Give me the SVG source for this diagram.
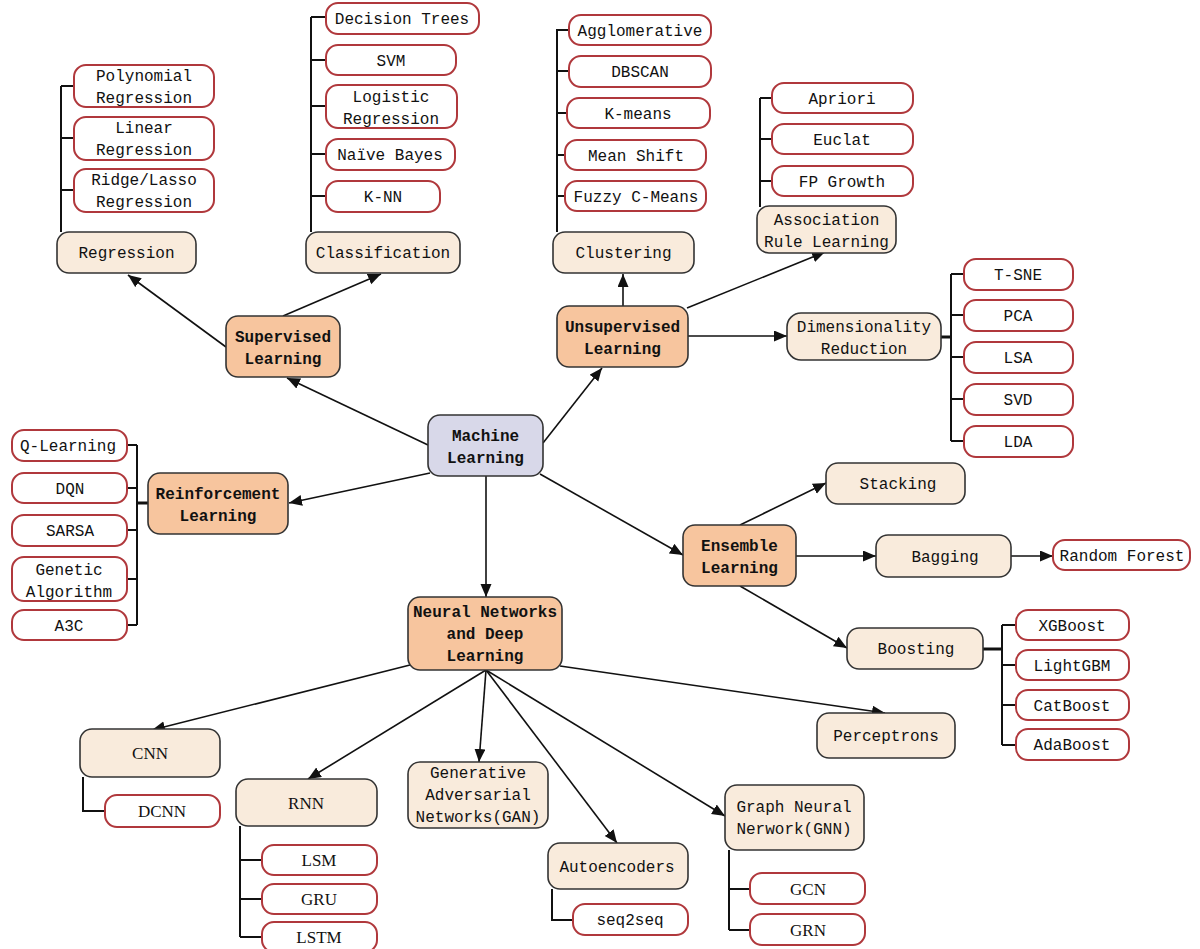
<svg xmlns="http://www.w3.org/2000/svg" width="1200" height="949" viewBox="0 0 1200 949">
<style>
  .leaf rect{fill:#ffffff;stroke:#b0383c;stroke-width:2}
  .cat rect{fill:#f9ebdc;stroke:#333;stroke-width:1.6}
  .main rect{fill:#f7c59e;stroke:#333;stroke-width:1.6}
  .root rect{fill:#d8d8e9;stroke:#333;stroke-width:1.6}
  text{font-family:"Liberation Mono","DejaVu Sans Mono",monospace;font-size:16px;fill:#111;text-anchor:middle}
  .main text,.root text{font-weight:bold}
  text.tnr{font-family:"Liberation Serif","Times New Roman",serif;font-size:17px}
  .tree path{fill:none;stroke:#111;stroke-width:2}
  .arrows line{stroke:#111;stroke-width:1.6;marker-end:url(#ah)}
</style>
<defs>
  <marker id="ah" markerUnits="userSpaceOnUse" markerWidth="14" markerHeight="12" refX="13" refY="5.5" orient="auto">
    <path d="M0,0 L13,5.5 L0,11 z" fill="#111"/>
  </marker>
</defs>
<rect width="1200" height="949" fill="#ffffff"/>

<g id="connectors">
  <g class="tree">
    <path d="M61,86 V232 M61,86 H74 M61,138 H74 M61,190 H74"/>
    <path d="M311,17 V232 M311,17 H326 M311,60 H326 M311,106 H326 M311,154 H326 M311,196 H326"/>
    <path d="M557,29 V232 M557,30 H569 M557,71 H569 M557,113 H567 M557,155 H565 M557,196 H565"/>
    <path d="M760,98 V207 M760,98 H772 M760,139 H772 M760,181 H772"/>
    <path d="M951,274 V441 M951,274 H964 M951,315 H964 M951,357 H964 M951,399 H964 M951,441 H964"/>
    <path d="M941,337 H951" style="stroke-width:3"/>
    <path d="M137,445 V625 M127,445 H137 M127,488 H137 M127,530 H137 M127,579 H137 M127,625 H137"/>
    <path d="M137,503 H148" style="stroke-width:3"/>
    <path d="M1002,625 V745 M1002,625 H1016 M1002,665 H1016 M1002,705 H1016 M1002,745 H1016"/>
    <path d="M983,649 H1002" style="stroke-width:3"/>
    <path d="M83,777 V811 H105"/>
    <path d="M240,826 V937 M240,860 H262 M240,899 H262 M240,937 H262"/>
    <path d="M552,889 V920 H573"/>
    <path d="M729,850 V930 M729,889 H750 M729,930 H750"/>
  </g>
  <g class="arrows">
    <line x1="428" y1="445" x2="287" y2="378"/>
    <line x1="226" y1="347" x2="128" y2="275"/>
    <line x1="283" y1="316" x2="381" y2="274"/>
    <line x1="543" y1="443" x2="602" y2="368"/>
    <line x1="623" y1="306" x2="623" y2="274"/>
    <line x1="687" y1="308" x2="825" y2="252"/>
    <line x1="688" y1="336" x2="787" y2="336"/>
    <line x1="430" y1="473" x2="289" y2="503"/>
    <line x1="486" y1="476" x2="486" y2="597"/>
    <line x1="540" y1="474" x2="683" y2="555"/>
    <line x1="740" y1="525" x2="826" y2="483"/>
    <line x1="796" y1="556" x2="876" y2="556"/>
    <line x1="1011" y1="556" x2="1053" y2="556"/>
    <line x1="740" y1="586" x2="847" y2="648"/>
    <line x1="410" y1="665" x2="152" y2="730"/>
    <line x1="486" y1="670" x2="308" y2="779"/>
    <line x1="486" y1="670" x2="479" y2="762"/>
    <line x1="486" y1="670" x2="617" y2="843"/>
    <line x1="486" y1="670" x2="725" y2="816"/>
    <line x1="560" y1="666" x2="885" y2="713"/>
  </g>
</g>

<!-- Root -->
<g id="machine-learning" class="root"><rect x="428" y="415" width="115" height="61" rx="12"/><text x="485.5" y="440.5">Machine</text><text x="485.5" y="462.5">Learning</text></g>

<!-- Main categories -->
<g id="supervised" class="main"><rect x="226" y="316" width="114" height="61" rx="12"/><text x="283" y="341.5">Supervised</text><text x="283" y="363.5">Learning</text></g>
<g id="unsupervised" class="main"><rect x="557" y="306" width="131" height="61" rx="12"/><text x="622.5" y="331.5">Unsupervised</text><text x="622.5" y="353.5">Learning</text></g>
<g id="reinforcement" class="main"><rect x="148" y="473" width="140" height="61" rx="12"/><text x="218" y="498.5">Reinforcement</text><text x="218" y="520.5">Learning</text></g>
<g id="ensemble" class="main"><rect x="683" y="525" width="113" height="61" rx="12"/><text x="739.5" y="550.5">Ensemble</text><text x="739.5" y="572.5">Learning</text></g>
<g id="neural-networks" class="main"><rect x="408" y="597" width="154" height="73" rx="12"/><text x="485" y="616.5">Neural Networks</text><text x="485" y="638.5">and Deep</text><text x="485" y="660.5">Learning</text></g>

<!-- Sub categories -->
<g id="regression" class="cat"><rect x="57" y="232" width="139" height="41" rx="12"/><text x="126.5" y="258">Regression</text></g>
<g id="classification" class="cat"><rect x="306" y="232" width="154" height="41" rx="12"/><text x="383" y="258">Classification</text></g>
<g id="clustering" class="cat"><rect x="553" y="232" width="141" height="41" rx="12"/><text x="623.5" y="258">Clustering</text></g>
<g id="association" class="cat"><rect x="757" y="206" width="139" height="47" rx="12"/><text x="826.5" y="224.5">Association</text><text x="826.5" y="246.5">Rule Learning</text></g>
<g id="dimensionality" class="cat"><rect x="787" y="313" width="154" height="47" rx="14"/><text x="864" y="331.5">Dimensionality</text><text x="864" y="353.5">Reduction</text></g>
<g id="stacking" class="cat"><rect x="826" y="463" width="139" height="41" rx="12"/><text x="898" y="489">Stacking</text></g>
<g id="bagging" class="cat"><rect x="876" y="535" width="135" height="42" rx="12"/><text x="945" y="561.5">Bagging</text></g>
<g id="boosting" class="cat"><rect x="847" y="628" width="136" height="41" rx="12"/><text x="916" y="654">Boosting</text></g>
<g id="perceptrons" class="cat"><rect x="817" y="713" width="138" height="45" rx="12"/><text x="886" y="741">Perceptrons</text></g>
<g id="cnn" class="cat"><rect x="80" y="729" width="140" height="48" rx="12"/><text class="tnr" x="150" y="758.5">CNN</text></g>
<g id="rnn" class="cat"><rect x="236" y="779" width="141" height="47" rx="12"/><text class="tnr" x="306" y="808.5">RNN</text></g>
<g id="gan" class="cat"><rect x="408" y="762" width="140" height="66" rx="12"/><text x="478" y="777.5">Generative</text><text x="478" y="799.5">Adversarial</text><text x="478" y="821.5">Networks(GAN)</text></g>
<g id="autoencoders" class="cat"><rect x="548" y="843" width="140" height="46" rx="12"/><text x="617" y="871.5">Autoencoders</text></g>
<g id="gnn" class="cat"><rect x="725" y="785" width="139" height="65" rx="12"/><text x="794" y="811.5">Graph Neural</text><text x="794" y="833.5">Nerwork(GNN)</text></g>

<!-- Leaves -->
<g id="polynomial" class="leaf"><rect x="74" y="65" width="140" height="42" rx="12"/><text x="144" y="80.5">Polynomial</text><text x="144" y="102.5">Regression</text></g>
<g id="linear" class="leaf"><rect x="74" y="117" width="140" height="43" rx="12"/><text x="144" y="132.5">Linear</text><text x="144" y="154.5">Regression</text></g>
<g id="ridge" class="leaf"><rect x="74" y="169" width="140" height="43" rx="12"/><text x="144" y="184.5">Ridge/Lasso</text><text x="144" y="206.5">Regression</text></g>

<g id="decision-trees" class="leaf"><rect x="326" y="3" width="153" height="31" rx="12"/><text x="402" y="23.5">Decision Trees</text></g>
<g id="svm" class="leaf"><rect x="326" y="45" width="130" height="30" rx="12"/><text x="391" y="65.5">SVM</text></g>
<g id="logistic" class="leaf"><rect x="326" y="85" width="131" height="43" rx="12"/><text x="391" y="101.5">Logistic</text><text x="391" y="123.5">Regression</text></g>
<g id="naive-bayes" class="leaf"><rect x="326" y="139" width="129" height="31" rx="12"/><text x="390" y="159.5">Naïve Bayes</text></g>
<g id="knn" class="leaf"><rect x="326" y="181" width="114" height="31" rx="12"/><text x="383" y="201.5">K-NN</text></g>

<g id="agglomerative" class="leaf"><rect x="569" y="15" width="142" height="30" rx="12"/><text x="640" y="35.5">Agglomerative</text></g>
<g id="dbscan" class="leaf"><rect x="569" y="56" width="142" height="31" rx="12"/><text x="640" y="76.5">DBSCAN</text></g>
<g id="kmeans" class="leaf"><rect x="567" y="98" width="143" height="30" rx="12"/><text x="638" y="118.5">K-means</text></g>
<g id="mean-shift" class="leaf"><rect x="565" y="140" width="141" height="30" rx="12"/><text x="636" y="160.5">Mean Shift</text></g>
<g id="fuzzy" class="leaf"><rect x="565" y="181" width="141" height="30" rx="12"/><text x="636" y="201.5">Fuzzy C-Means</text></g>

<g id="apriori" class="leaf"><rect x="772" y="83" width="141" height="30" rx="12"/><text x="842" y="103.5">Apriori</text></g>
<g id="euclat" class="leaf"><rect x="772" y="124" width="141" height="30" rx="12"/><text x="842" y="144.5">Euclat</text></g>
<g id="fp-growth" class="leaf"><rect x="772" y="166" width="141" height="30" rx="12"/><text x="842" y="186.5">FP Growth</text></g>

<g id="tsne" class="leaf"><rect x="964" y="259" width="109" height="31" rx="12"/><text x="1018" y="279.5">T-SNE</text></g>
<g id="pca" class="leaf"><rect x="964" y="300" width="109" height="31" rx="12"/><text x="1018" y="320.5">PCA</text></g>
<g id="lsa" class="leaf"><rect x="964" y="342" width="109" height="31" rx="12"/><text x="1018" y="362.5">LSA</text></g>
<g id="svd" class="leaf"><rect x="964" y="384" width="109" height="31" rx="12"/><text x="1018" y="404.5">SVD</text></g>
<g id="lda" class="leaf"><rect x="964" y="426" width="109" height="31" rx="12"/><text x="1018" y="446.5">LDA</text></g>

<g id="q-learning" class="leaf"><rect x="12" y="430" width="115" height="31" rx="12"/><text x="68" y="450.5">Q-Learning</text></g>
<g id="dqn" class="leaf"><rect x="12" y="473" width="115" height="30" rx="12"/><text x="70" y="493.5">DQN</text></g>
<g id="sarsa" class="leaf"><rect x="12" y="515" width="115" height="31" rx="12"/><text x="70" y="535.5">SARSA</text></g>
<g id="genetic" class="leaf"><rect x="12" y="557" width="115" height="44" rx="12"/><text x="69" y="574.5">Genetic</text><text x="69" y="596.5">Algorithm</text></g>
<g id="a3c" class="leaf"><rect x="12" y="610" width="115" height="30" rx="12"/><text x="69" y="630.5">A3C</text></g>

<g id="random-forest" class="leaf"><rect x="1053" y="540" width="137" height="30" rx="12"/><text x="1122" y="560.5">Random Forest</text></g>
<g id="xgboost" class="leaf"><rect x="1016" y="610" width="113" height="30" rx="12"/><text x="1072" y="630.5">XGBoost</text></g>
<g id="lightgbm" class="leaf"><rect x="1016" y="650" width="113" height="30" rx="12"/><text x="1072" y="670.5">LightGBM</text></g>
<g id="catboost" class="leaf"><rect x="1016" y="690" width="113" height="30" rx="12"/><text x="1072" y="710.5">CatBoost</text></g>
<g id="adaboost" class="leaf"><rect x="1016" y="729" width="113" height="31" rx="12"/><text x="1072" y="749.5">AdaBoost</text></g>

<g id="dcnn" class="leaf"><rect x="105" y="795" width="115" height="32" rx="12"/><text class="tnr" x="162" y="816.5">DCNN</text></g>
<g id="lsm" class="leaf"><rect x="262" y="845" width="115" height="30" rx="12"/><text class="tnr" x="319" y="865.5">LSM</text></g>
<g id="gru" class="leaf"><rect x="262" y="884" width="115" height="30" rx="12"/><text class="tnr" x="319" y="904.5">GRU</text></g>
<g id="lstm" class="leaf"><rect x="262" y="922" width="115" height="30" rx="12"/><text class="tnr" x="319" y="942.5">LSTM</text></g>
<g id="seq2seq" class="leaf"><rect x="573" y="904" width="115" height="31" rx="12"/><text x="630" y="924.5">seq2seq</text></g>
<g id="gcn" class="leaf"><rect x="750" y="873" width="115" height="31" rx="12"/><text class="tnr" x="808" y="894.5">GCN</text></g>
<g id="grn" class="leaf"><rect x="750" y="914" width="115" height="31" rx="12"/><text class="tnr" x="808" y="935.5">GRN</text></g>
</svg>
